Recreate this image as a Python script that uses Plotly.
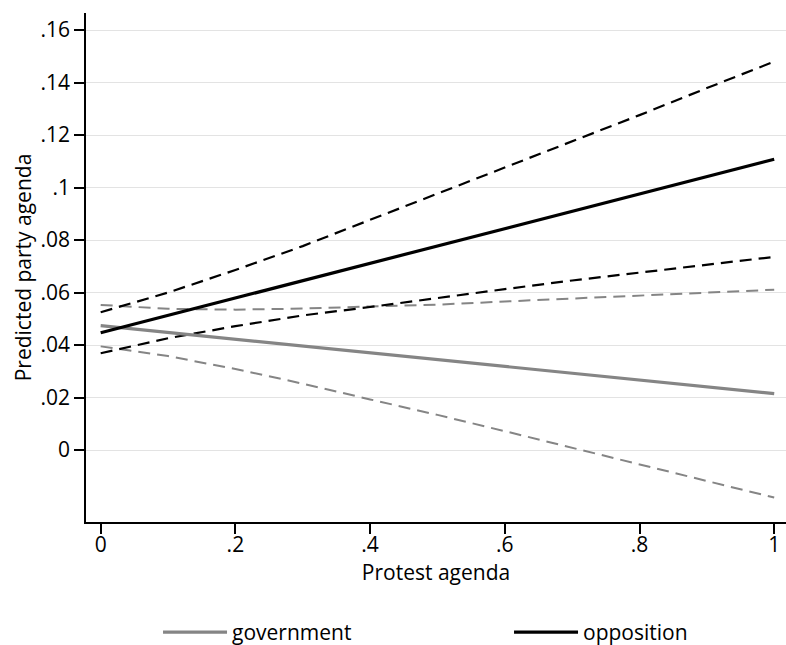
import plotly.graph_objects as go

# Protest agenda values at which predictions are shown
x_vals = [0, 0.1, 0.2, 0.3, 0.4, 0.5, 0.6, 0.7, 0.8, 0.9, 1.0]

# Government: prediction and 95% CI
gov_mean = [0.0474, 0.0448, 0.0422, 0.0396, 0.0370, 0.0344, 0.0319, 0.0293, 0.0267, 0.0241, 0.0215]
gov_upper = [0.0553, 0.0538, 0.0535, 0.0539, 0.0547, 0.0554, 0.0566, 0.0577, 0.0588, 0.0599, 0.0611]
gov_lower = [0.0395, 0.0358, 0.0309, 0.0253, 0.0193, 0.0134, 0.0072, 0.0009, -0.0054, -0.0117, -0.0181]

# Opposition: prediction and 95% CI
opp_mean = [0.0447, 0.0513, 0.0579, 0.0645, 0.0711, 0.0778, 0.0844, 0.0910, 0.0976, 0.1042, 0.1108]
opp_upper = [0.0525, 0.0600, 0.0686, 0.0777, 0.0877, 0.0976, 0.1075, 0.1174, 0.1276, 0.1379, 0.1480]
opp_lower = [0.0369, 0.0426, 0.0472, 0.0513, 0.0545, 0.0580, 0.0613, 0.0646, 0.0676, 0.0705, 0.0736]

series_names = ["government", "opposition"]

x_tickvals = [0, 0.2, 0.4, 0.6, 0.8, 1]
x_ticktext = ["0", ".2", ".4", ".6", ".8", "1"]
y_tickvals = [0, 0.02, 0.04, 0.06, 0.08, 0.1, 0.12, 0.14, 0.16]
y_ticktext = ["0", ".02", ".04", ".06", ".08", ".1", ".12", ".14", ".16"]

GRAY = "#858585"
BLACK = "#000000"
DASH = "12px,7px"
FONT = "Open Sans"
FS = 21

fig = go.Figure()

fig.add_trace(go.Scatter(x=x_vals, y=gov_upper, mode="lines", showlegend=False,
                         line=dict(color=GRAY, width=2, dash=DASH)))
fig.add_trace(go.Scatter(x=x_vals, y=gov_lower, mode="lines", showlegend=False,
                         line=dict(color=GRAY, width=2, dash=DASH)))
fig.add_trace(go.Scatter(x=x_vals, y=opp_upper, mode="lines", showlegend=False,
                         line=dict(color=BLACK, width=2.2, dash=DASH)))
fig.add_trace(go.Scatter(x=x_vals, y=opp_lower, mode="lines", showlegend=False,
                         line=dict(color=BLACK, width=2.2, dash=DASH)))
fig.add_trace(go.Scatter(x=x_vals, y=gov_mean, mode="lines", name=series_names[0],
                         line=dict(color=GRAY, width=3.2)))
fig.add_trace(go.Scatter(x=x_vals, y=opp_mean, mode="lines", name=series_names[1],
                         line=dict(color=BLACK, width=3.2)))

fig.update_layout(
    width=786, height=645,
    margin=dict(l=86, r=0, t=13, b=123, autoexpand=False),
    paper_bgcolor="white", plot_bgcolor="white",
    font=dict(family=FONT, size=FS, color="#000000"),
    showlegend=True,
    legend=dict(orientation="h", x=0.1029, xanchor="left", y=-0.217, yanchor="middle",
                yref="paper", entrywidth=272, itemwidth=64,
                font=dict(family=FONT, size=FS), traceorder="normal"),
    xaxis=dict(range=[-0.0218, 1.0175], tickvals=x_tickvals, ticktext=x_ticktext,
               automargin=False,
               showgrid=False, zeroline=False, showline=True, linecolor="#000000",
               linewidth=1.5, ticks="outside", ticklen=10, tickwidth=1.5,
               tickcolor="#000000", ticklabelstandoff=-7,
               title=dict(text="Protest agenda", font=dict(size=FS), standoff=4)),
    yaxis=dict(range=[-0.0274, 0.1665], tickvals=y_tickvals, ticktext=y_ticktext,
               automargin=False,
               showgrid=True, gridcolor="#e3e3e3", gridwidth=1, zeroline=False,
               showline=True, linecolor="#000000", linewidth=1.5,
               ticks="outside", ticklen=10, tickwidth=1.5, tickcolor="#000000",
               title=dict(text="Predicted party agenda", font=dict(size=FS), standoff=3)),
)

fig.write_html("out.html", config={"displayModeBar": False},
               post_script="document.body.style.margin='0';")
